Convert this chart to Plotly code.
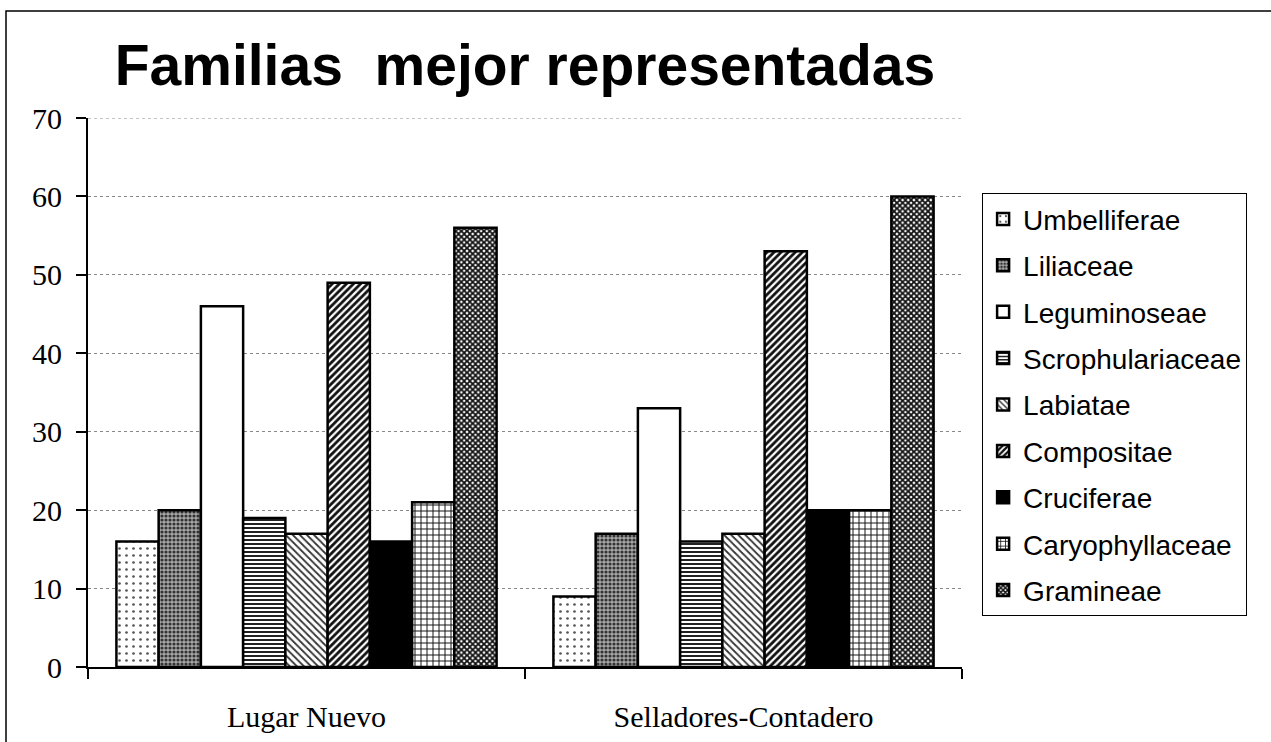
import plotly.graph_objects as go

categories = ["Lugar Nuevo", "Selladores-Contadero"]
families = ["Umbelliferae", "Liliaceae", "Leguminoseae", "Scrophulariaceae",
            "Labiatae", "Compositae", "Cruciferae", "Caryophyllaceae", "Gramineae"]
lugar_nuevo = [16, 20, 46, 19, 17, 49, 16, 21, 56]
selladores = [9, 17, 33, 16, 17, 53, 20, 20, 60]
y_ticks = [0, 10, 20, 30, 40, 50, 60, 70]

styles = {
    "Umbelliferae": dict(color="white", pattern=dict(shape=".", size=7, solidity=0.12, fgcolor="#555", bgcolor="white", fillmode="replace")),
    "Liliaceae": dict(color="#a0a0a0", pattern=dict(shape=".", size=4, solidity=0.5, fgcolor="#333", bgcolor="#a8a8a8", fillmode="replace")),
    "Leguminoseae": dict(color="white", pattern=dict(shape="")),
    "Scrophulariaceae": dict(color="white", pattern=dict(shape="-", size=4, solidity=0.5, fgcolor="#222", bgcolor="white", fillmode="replace")),
    "Labiatae": dict(color="white", pattern=dict(shape="\\", size=5, solidity=0.35, fgcolor="#333", bgcolor="white", fillmode="replace")),
    "Compositae": dict(color="white", pattern=dict(shape="/", size=5, solidity=0.55, fgcolor="#111", bgcolor="white", fillmode="replace")),
    "Cruciferae": dict(color="black", pattern=dict(shape="")),
    "Caryophyllaceae": dict(color="white", pattern=dict(shape="+", size=6, solidity=0.3, fgcolor="#111", bgcolor="white", fillmode="replace")),
    "Gramineae": dict(color="white", pattern=dict(shape="x", size=4, solidity=0.7, fgcolor="#111", bgcolor="white", fillmode="replace")),
}

fig = go.Figure()
for i, fam in enumerate(families):
    st = styles[fam]
    fig.add_trace(go.Bar(
        name=fam, x=categories, y=[lugar_nuevo[i], selladores[i]],
        legendgroup=fam,
        marker=dict(color=st["color"], pattern=st["pattern"], line=dict(color="black", width=2.5)),
    ))

fig.update_layout(
    width=1271, height=742,
    margin=dict(l=88, r=309, t=118, b=75),
    paper_bgcolor="white", plot_bgcolor="white",
    barmode="group", bargap=0.13, bargroupgap=0,
    title=dict(text="Familias\u00a0\u00a0mejor representadas", x=0.5, xref="paper",
               y=1 - 65 / 742, yref="container", yanchor="middle", xanchor="center",
               font=dict(family="Liberation Sans, Arial", size=57, color="black", weight="bold")),
    legend=dict(x=1.023, xanchor="left", y=0.863, yanchor="top",
                bordercolor="black", borderwidth=1, bgcolor="white",
                font=dict(family="Liberation Sans, Arial", size=28, color="black"),
                tracegroupgap=7, itemclick=False),
    showlegend=True,
)
fig.update_xaxes(showline=True, linecolor="black", linewidth=2, ticks="outside",
                 tickson="boundaries", ticklen=10, tickwidth=2, tickcolor="black",
                 ticklabelstandoff=22, automargin=False,
                 tickfont=dict(family="Liberation Serif, Times New Roman", size=30, color="black"),
                 showgrid=False)
fig.update_yaxes(range=[0, 70], tickvals=y_ticks, showline=True, linecolor="black", linewidth=2,
                 ticks="outside", ticklen=10, tickwidth=2, tickcolor="black",
                 ticklabelstandoff=8, automargin=False,
                 tickfont=dict(family="Liberation Serif, Times New Roman", size=30, color="black"),
                 showgrid=True, gridcolor="#888", griddash="dot", gridwidth=1, zeroline=False)

# top gridline at the range edge
fig.add_shape(type="line", xref="paper", yref="y", x0=0, x1=1, y0=y_ticks[-1], y1=y_ticks[-1],
              line=dict(color="#888", width=1, dash="dot"), layer="below")

# outer frame (only left and top edges visible in the reference)
fig.add_shape(type="rect", xref="paper", yref="paper",
              x0=(6 - 88) / 874, x1=(1300 - 88) / 874, y0=(667 - 800) / 549, y1=(667 - 11) / 549,
              line=dict(color="black", width=1.5), fillcolor="rgba(0,0,0,0)", layer="below")

fig.write_html("out.html", config={"displayModeBar": False},
               post_script="document.body.style.margin='0';document.body.style.padding='0';")
